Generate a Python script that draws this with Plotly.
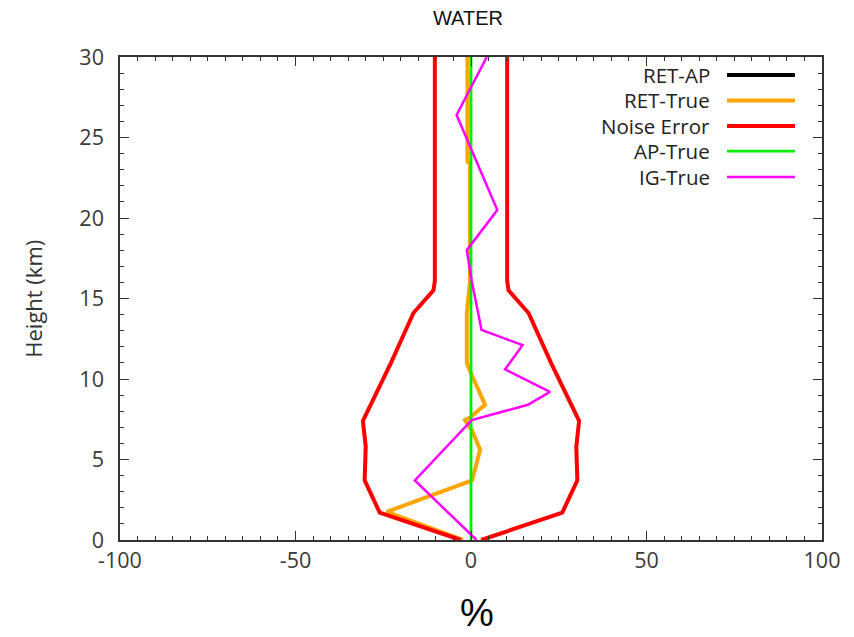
import plotly.graph_objects as go

# Profiles of water vapour differences (%) against height (km)
ret_ap_h = []
ret_ap_v = []

ret_true_h = [0, 1.75, 3.7, 5.6, 6.8, 7.45, 7.6, 8.4, 10.2, 11.0, 14.1, 16.0, 23.4, 23.5, 30]
ret_true_v = [-2.3, -24.0, 0.3, 2.6, 0.3, -1.7, -0.3, 4.0, 0.3, -1.2, -1.2, -0.3, -0.3, -1.0, -1.0]

noise_h = [0, 1.7, 3.7, 5.8, 7.4, 11.0, 14.1, 15.5, 16.1, 30]
noise_v = [2.9, 26.0, 30.3, 30.0, 30.8, 22.8, 16.4, 10.7, 10.3, 10.3]

ap_true_h = [0, 30]
ap_true_v = [0, 0]

ig_true_h = [0, 3.7, 7.45, 8.4, 9.2, 10.6, 12.1, 13.05, 16.1, 18.0, 20.5, 26.4, 30]
ig_true_v = [1.6, -16.0, 0.2, 16.2, 22.5, 9.7, 14.7, 3.0, 0.2, -1.2, 7.5, -4.1, 4.5]

names = ["RET-AP", "RET-True", "Noise Error", "AP-True", "IG-True"]
colors = ["#000000", "#FFA500", "#FF0000", "#00EE00", "#FF00FF"]
widths = [4, 4, 4, 2.8, 2.5]

x_ticks = [-100, -50, 0, 50, 100]
x_tick_text = ["-100", "-50", "0", "50", "100"]
y_ticks = [0, 5, 10, 15, 20, 25, 30]

FONT = "Open Sans"

# noise error drawn on both sides of zero as one trace
noise_x = [-v for v in noise_v] + [None] + list(noise_v)
noise_y = list(noise_h) + [None] + list(noise_h)

series = [
    (ret_ap_v, ret_ap_h),
    (ret_true_v, ret_true_h),
    (noise_x, noise_y),
    (ap_true_v, ap_true_h),
    (ig_true_v, ig_true_h),
]

fig = go.Figure()
for (xs, ys), name, col, w in zip(series, names, colors, widths):
    fig.add_trace(go.Scatter(
        x=xs, y=ys, mode="lines", name=name,
        line=dict(color=col, width=w),
        connectgaps=False, showlegend=False,
    ))

# key in the upper right: text right-aligned, sample line to its right
row_y = [0.9627, 0.910, 0.857, 0.805, 0.7516]
for name, col, w, ry in zip(names, colors, widths, row_y):
    fig.add_annotation(
        x=0.843, y=ry, xref="paper", yref="paper",
        text=name, showarrow=False, xanchor="right", yanchor="middle",
        font=dict(family=FONT, size=20.5, color="#222222"),
    )
    fig.add_shape(
        type="line", xref="paper", yref="paper",
        x0=0.8647, x1=0.9615, y0=ry, y1=ry,
        line=dict(color=col, width=w),
    )

axis_common = dict(
    showgrid=False, zeroline=False,
    showline=True, linecolor="#333333", linewidth=1.5, mirror="ticks",
    ticks="inside", ticklen=9, tickwidth=1.2, tickcolor="#333333",
    tickfont=dict(family=FONT, size=21.5, color="#3a3a3a"),
)

fig.update_xaxes(
    range=[-100, 100], tickvals=x_ticks, ticktext=x_tick_text,
    minor=dict(dtick=5, ticks="inside", ticklen=4, tickcolor="#333333", showgrid=False),
    **axis_common,
)
fig.update_yaxes(
    range=[0, 30], tickvals=y_ticks,
    minor=dict(dtick=1, ticks="inside", ticklen=4, tickcolor="#333333", showgrid=False),
    ticklabelstandoff=10,
    **axis_common,
)

fig.add_annotation(
    x=-0.125, y=0.5, xref="paper", yref="paper", xanchor="center", yanchor="middle",
    text="Height (km)", textangle=-90, showarrow=False,
    font=dict(family=FONT, size=22, color="#333333"),
)
fig.add_annotation(
    x=0.508, y=-0.152, xref="paper", yref="paper", xanchor="center", yanchor="middle",
    text="%", showarrow=False,
    font=dict(family="Liberation Sans", size=38, color="#000000"),
)

fig.update_layout(
    width=854, height=637, autosize=False,
    margin=dict(l=120, r=32, t=57, b=97),
    paper_bgcolor="white", plot_bgcolor="white",
    title=dict(text="WATER", x=0.548, xanchor="center", y=0.972, yanchor="middle",
               font=dict(family="Liberation Sans", size=20, color="#111111")),
    showlegend=False,
)

fig.write_html("out.html")
